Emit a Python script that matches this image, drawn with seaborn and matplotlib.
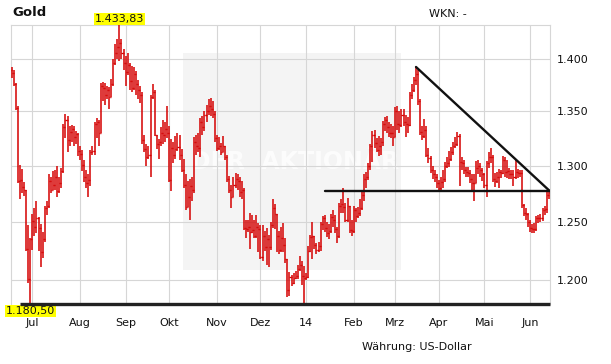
import matplotlib
matplotlib.use("Agg")
import matplotlib.pyplot as plt
import matplotlib.ticker as mticker
from matplotlib.patches import Rectangle
import numpy as np
import pandas as pd
import seaborn as sns

# Gold, daily prices in USD, 17.06.2013 - 13.06.2014
close = [
    1387, 1376, 1353, 1286, 1287, 1281, 1278, 1227, 1201, 1235,
    1251, 1246, 1253, 1245, 1224, 1235, 1262, 1264, 1286, 1278,
    1283, 1290, 1277, 1284, 1295, 1335, 1342, 1323, 1331, 1334,
    1326, 1329, 1313, 1311, 1301, 1290, 1284, 1287, 1312, 1313,
    1338, 1340, 1330, 1374, 1372, 1366, 1370, 1364, 1376, 1396,
    1406, 1412, 1416, 1406, 1396, 1388, 1394, 1379, 1372, 1386,
    1376, 1370, 1366, 1323, 1315, 1308, 1310, 1364, 1368, 1328,
    1320, 1322, 1330, 1328, 1334, 1330, 1287, 1316, 1310, 1315,
    1317, 1310, 1296, 1283, 1263, 1272, 1282, 1278, 1322, 1318,
    1316, 1340, 1335, 1347, 1350, 1355, 1352, 1348, 1325, 1316,
    1318, 1312, 1318, 1308, 1288, 1278, 1272, 1283, 1288, 1286,
    1276, 1278, 1245, 1244, 1246, 1241, 1243, 1238, 1246, 1244,
    1220, 1238, 1228, 1235, 1228, 1247, 1262, 1257, 1238, 1226,
    1236, 1230, 1218, 1192, 1203, 1198, 1202, 1204, 1210, 1213,
    1204, 1202, 1203, 1225, 1237, 1238, 1230, 1226, 1229, 1248,
    1253, 1245, 1240, 1242, 1254, 1252, 1244, 1238, 1264, 1266,
    1263, 1252, 1264, 1243, 1242, 1260, 1255, 1258, 1262, 1274,
    1288, 1290, 1300, 1318, 1328, 1321, 1314, 1318, 1322, 1338,
    1342, 1335, 1330, 1330, 1326, 1350, 1338, 1337, 1347, 1340,
    1338, 1337, 1366, 1370, 1380, 1386, 1360, 1331, 1327, 1333,
    1310, 1307, 1296, 1292, 1290, 1284, 1280, 1285, 1288, 1300,
    1302, 1306, 1312, 1318, 1320, 1327, 1303, 1302, 1296, 1294,
    1293, 1288, 1284, 1284, 1298, 1300, 1296, 1292, 1283, 1302,
    1308, 1308, 1288, 1286, 1290, 1294, 1293, 1305, 1294, 1295,
    1292, 1292, 1290, 1294, 1293, 1293, 1265, 1258, 1257, 1250,
    1245, 1244, 1244, 1253, 1253, 1253, 1260, 1261, 1274, 1275,
]
high = [
    1392, 1390, 1377, 1355, 1301, 1297, 1285, 1278, 1247, 1236,
    1257, 1262, 1268, 1254, 1248, 1241, 1264, 1268, 1292, 1290,
    1295, 1296, 1300, 1290, 1298, 1338, 1348, 1346, 1336, 1337,
    1336, 1332, 1330, 1318, 1314, 1305, 1296, 1292, 1314, 1318,
    1340, 1344, 1342, 1377, 1378, 1377, 1374, 1373, 1381, 1400,
    1415, 1420, 1433.83, 1420, 1410, 1403, 1406, 1396, 1393, 1392,
    1389, 1380, 1374, 1368, 1328, 1320, 1318, 1366, 1376, 1370,
    1326, 1324, 1335, 1342, 1340, 1355, 1336, 1324, 1322, 1327,
    1330, 1328, 1315, 1306, 1292, 1286, 1288, 1290, 1326, 1328,
    1330, 1344, 1346, 1350, 1356, 1362, 1363, 1360, 1350, 1328,
    1326, 1321, 1327, 1318, 1310, 1291, 1283, 1290, 1293, 1292,
    1290, 1286, 1280, 1252, 1252, 1258, 1256, 1252, 1256, 1249,
    1247, 1247, 1242, 1245, 1239, 1250, 1270, 1266, 1252, 1242,
    1246, 1249, 1236, 1212, 1207, 1205, 1206, 1208, 1213, 1221,
    1216, 1212, 1206, 1229, 1239, 1250, 1238, 1232, 1233, 1250,
    1255, 1256, 1250, 1248, 1257, 1260, 1256, 1246, 1267, 1270,
    1280, 1267, 1271, 1262, 1252, 1264, 1262, 1263, 1270, 1277,
    1292, 1294, 1302, 1320, 1332, 1333, 1325, 1327, 1325, 1341,
    1345, 1346, 1340, 1338, 1336, 1354, 1355, 1350, 1352, 1352,
    1347, 1345, 1368, 1376, 1383, 1392.5, 1390, 1362, 1336, 1343,
    1336, 1316, 1309, 1300, 1296, 1292, 1287, 1290, 1296, 1303,
    1308, 1313, 1317, 1322, 1326, 1331, 1329, 1308, 1305, 1299,
    1299, 1296, 1292, 1292, 1304, 1305, 1302, 1298, 1293, 1304,
    1312, 1316, 1310, 1293, 1294, 1297, 1296, 1309, 1308, 1305,
    1298, 1296, 1296, 1305, 1297, 1296, 1296, 1266, 1262, 1258,
    1252, 1248, 1249, 1255, 1256, 1257, 1262, 1264, 1276, 1278,
]
low = [
    1382, 1374, 1351, 1284, 1270, 1275, 1273, 1225, 1198, 1180.5,
    1226, 1238, 1240, 1225, 1211, 1219, 1233, 1256, 1262, 1275,
    1278, 1278, 1272, 1275, 1280, 1293, 1325, 1312, 1318, 1322,
    1318, 1320, 1309, 1305, 1295, 1285, 1280, 1272, 1282, 1310,
    1310, 1325, 1318, 1330, 1360, 1356, 1362, 1352, 1366, 1374,
    1394, 1400, 1398, 1400, 1390, 1374, 1385, 1370, 1368, 1370,
    1366, 1362, 1358, 1320, 1312, 1300, 1306, 1290, 1362, 1327,
    1315, 1306, 1318, 1320, 1322, 1325, 1285, 1277, 1302, 1306,
    1313, 1305, 1294, 1280, 1260, 1266, 1252, 1268, 1275, 1310,
    1312, 1308, 1328, 1332, 1340, 1347, 1346, 1344, 1322, 1313,
    1314, 1310, 1312, 1305, 1285, 1275, 1262, 1276, 1280, 1278,
    1272, 1270, 1243, 1236, 1241, 1227, 1240, 1236, 1236, 1224,
    1218, 1216, 1225, 1213, 1211, 1226, 1245, 1244, 1224, 1222,
    1224, 1224, 1215, 1186, 1187, 1195, 1197, 1201, 1201, 1208,
    1196, 1181, 1200, 1202, 1224, 1218, 1227, 1222, 1224, 1225,
    1243, 1241, 1237, 1235, 1240, 1246, 1240, 1232, 1236, 1258,
    1258, 1250, 1250, 1240, 1238, 1240, 1250, 1253, 1255, 1260,
    1268, 1280, 1287, 1296, 1303, 1316, 1312, 1309, 1310, 1318,
    1332, 1330, 1326, 1325, 1318, 1326, 1333, 1330, 1335, 1336,
    1326, 1330, 1336, 1362, 1368, 1375, 1356, 1328, 1323, 1325,
    1308, 1302, 1293, 1288, 1285, 1280, 1277, 1278, 1280, 1285,
    1298, 1299, 1304, 1310, 1316, 1318, 1282, 1296, 1292, 1290,
    1290, 1284, 1276, 1268, 1284, 1292, 1290, 1286, 1280, 1272,
    1298, 1302, 1285, 1281, 1284, 1280, 1289, 1292, 1290, 1289,
    1288, 1288, 1282, 1288, 1289, 1290, 1262, 1255, 1252, 1246,
    1241, 1240, 1240, 1242, 1249, 1250, 1251, 1256, 1258, 1270,
]
first_open = 1390
start_date = "2013-06-17"

month_labels = ["Jul", "Aug", "Sep", "Okt", "Nov", "Dez", "14",
                "Feb", "Mrz", "Apr", "Mai", "Jun"]
y_ticks = [1200, 1250, 1300, 1350, 1400]

# lines drawn into the chart (date, price)
resistance = [("2014-03-17", 1392.5), ("2014-06-13", 1277)]
support = [("2014-01-14", 1277), ("2014-06-13", 1277)]
bottom_line = [("2013-06-21", 1180.5), ("2014-06-13", 1180.5)]

RED = "#d40000"
GRID = "#d6d6d6"

sns.set_style("white")
plt.rcParams["font.family"] = ["DejaVu Sans"]

dates = pd.bdate_range(start_date, periods=len(close))
x = np.arange(len(close))
close_a = np.array(close, dtype=float)
open_a = np.concatenate([[first_open], close_a[:-1]])
high_a = np.maximum.reduce([np.array(high, dtype=float), open_a, close_a])
low_a = np.minimum.reduce([np.array(low, dtype=float), open_a, close_a])

fig = plt.figure(figsize=(6.11, 3.64), dpi=100)
fig.patch.set_facecolor("white")
ax = fig.add_axes([11 / 611, 60 / 364, 539 / 611, 279 / 364])
ax.set_facecolor("none")

# watermark box behind the chart
fig.patches.append(Rectangle((183 / 611, 94 / 364), 218 / 611, 217 / 364,
                             transform=fig.transFigure, facecolor="#f4f4f4",
                             edgecolor="none", zorder=-5))
fig.text(295 / 611, 1 - 162 / 364, "DER  AKTIONÄR", ha="center", va="center",
         fontsize=17, fontweight="bold", color="white", alpha=0.75, zorder=-4)

ax.set_yscale("log")
ax.set_ylim(min(low), max(high))
ax.set_xlim(-0.27, len(close) - 0.4)

# OHLC bars
ax.vlines(x, low_a, high_a, color=RED, lw=1.1, zorder=3)
ax.hlines(open_a, x - 0.5, x, color=RED, lw=0.95, zorder=3)
ax.hlines(close_a, x, x + 0.5, color=RED, lw=0.95, zorder=3)


def line_xy(pts):
    xs, ys = [], []
    for d, v in pts:
        pos = dates.get_loc(pd.Timestamp(d))
        if pos == len(dates) - 1:
            pos += 0.6
        xs.append(pos)
        ys.append(v)
    return xs, ys


for pts in [resistance, support]:
    xs, ys = line_xy(pts)
    sns.lineplot(x=xs, y=ys, ax=ax, color="#111111", lw=1.7, zorder=5)
xs, ys = line_xy(bottom_line)
ax.plot(xs, ys, color="#222222", lw=2.4, zorder=5, clip_on=False,
        solid_capstyle="butt")

# axes styling
month_starts = pd.date_range("2013-07-01", periods=len(month_labels), freq="MS")
ax.set_xticks([dates.searchsorted(m) for m in month_starts])
ax.set_xticklabels(month_labels)
ax.yaxis.set_major_locator(mticker.FixedLocator(y_ticks))
ax.yaxis.set_minor_locator(mticker.NullLocator())
ax.yaxis.set_major_formatter(mticker.FuncFormatter(
    lambda v, p: f"{v:,.0f}".replace(",", ".")))
ax.yaxis.tick_right()
ax.tick_params(axis="y", length=0, pad=5, labelsize=8, colors="#111111")
ax.tick_params(axis="x", length=0, pad=10, labelsize=8, colors="#111111")
ax.grid(True, color=GRID, lw=0.8, zorder=0)
ax.set_axisbelow(True)
for side in ["left", "top", "right"]:
    ax.spines[side].set_color(GRID)
    ax.spines[side].set_linewidth(0.8)
ax.spines["bottom"].set_visible(False)
ax.set_xlabel("")
ax.set_ylabel("")

# high / low markers
i_hi = int(np.argmax(high_a))
i_lo = int(np.argmin(low_a))
fmt = lambda v: f"{v:,.2f}".replace(",", "X").replace(".", ",").replace("X", ".")
box = dict(boxstyle="square,pad=0.08", facecolor="#ffff00", edgecolor="none")
ax.annotate(fmt(high_a[i_hi]), xy=(i_hi, high_a[i_hi]), xytext=(0, 4.5),
            textcoords="offset points", ha="center", va="center",
            fontsize=8, color="#111111", bbox=box, annotation_clip=False)
ax.annotate(fmt(low_a[i_lo]), xy=(i_lo, low_a[i_lo]), xytext=(0, -5),
            textcoords="offset points", ha="center", va="center",
            fontsize=8, color="#111111", bbox=box, annotation_clip=False)

fig.text(12 / 611, 1 - 12.5 / 364, "Gold", fontsize=9.5, fontweight="bold",
         ha="left", va="center", color="#111111")
fig.text(429 / 611, 1 - 14 / 364, "WKN: -", fontsize=8, ha="left",
         va="center", color="#111111")
fig.text(362 / 611, 1 - 347 / 364, "Währung: US-Dollar", fontsize=8,
         ha="left", va="center", color="#111111")

fig.savefig("out.png", dpi=100, facecolor="white")
